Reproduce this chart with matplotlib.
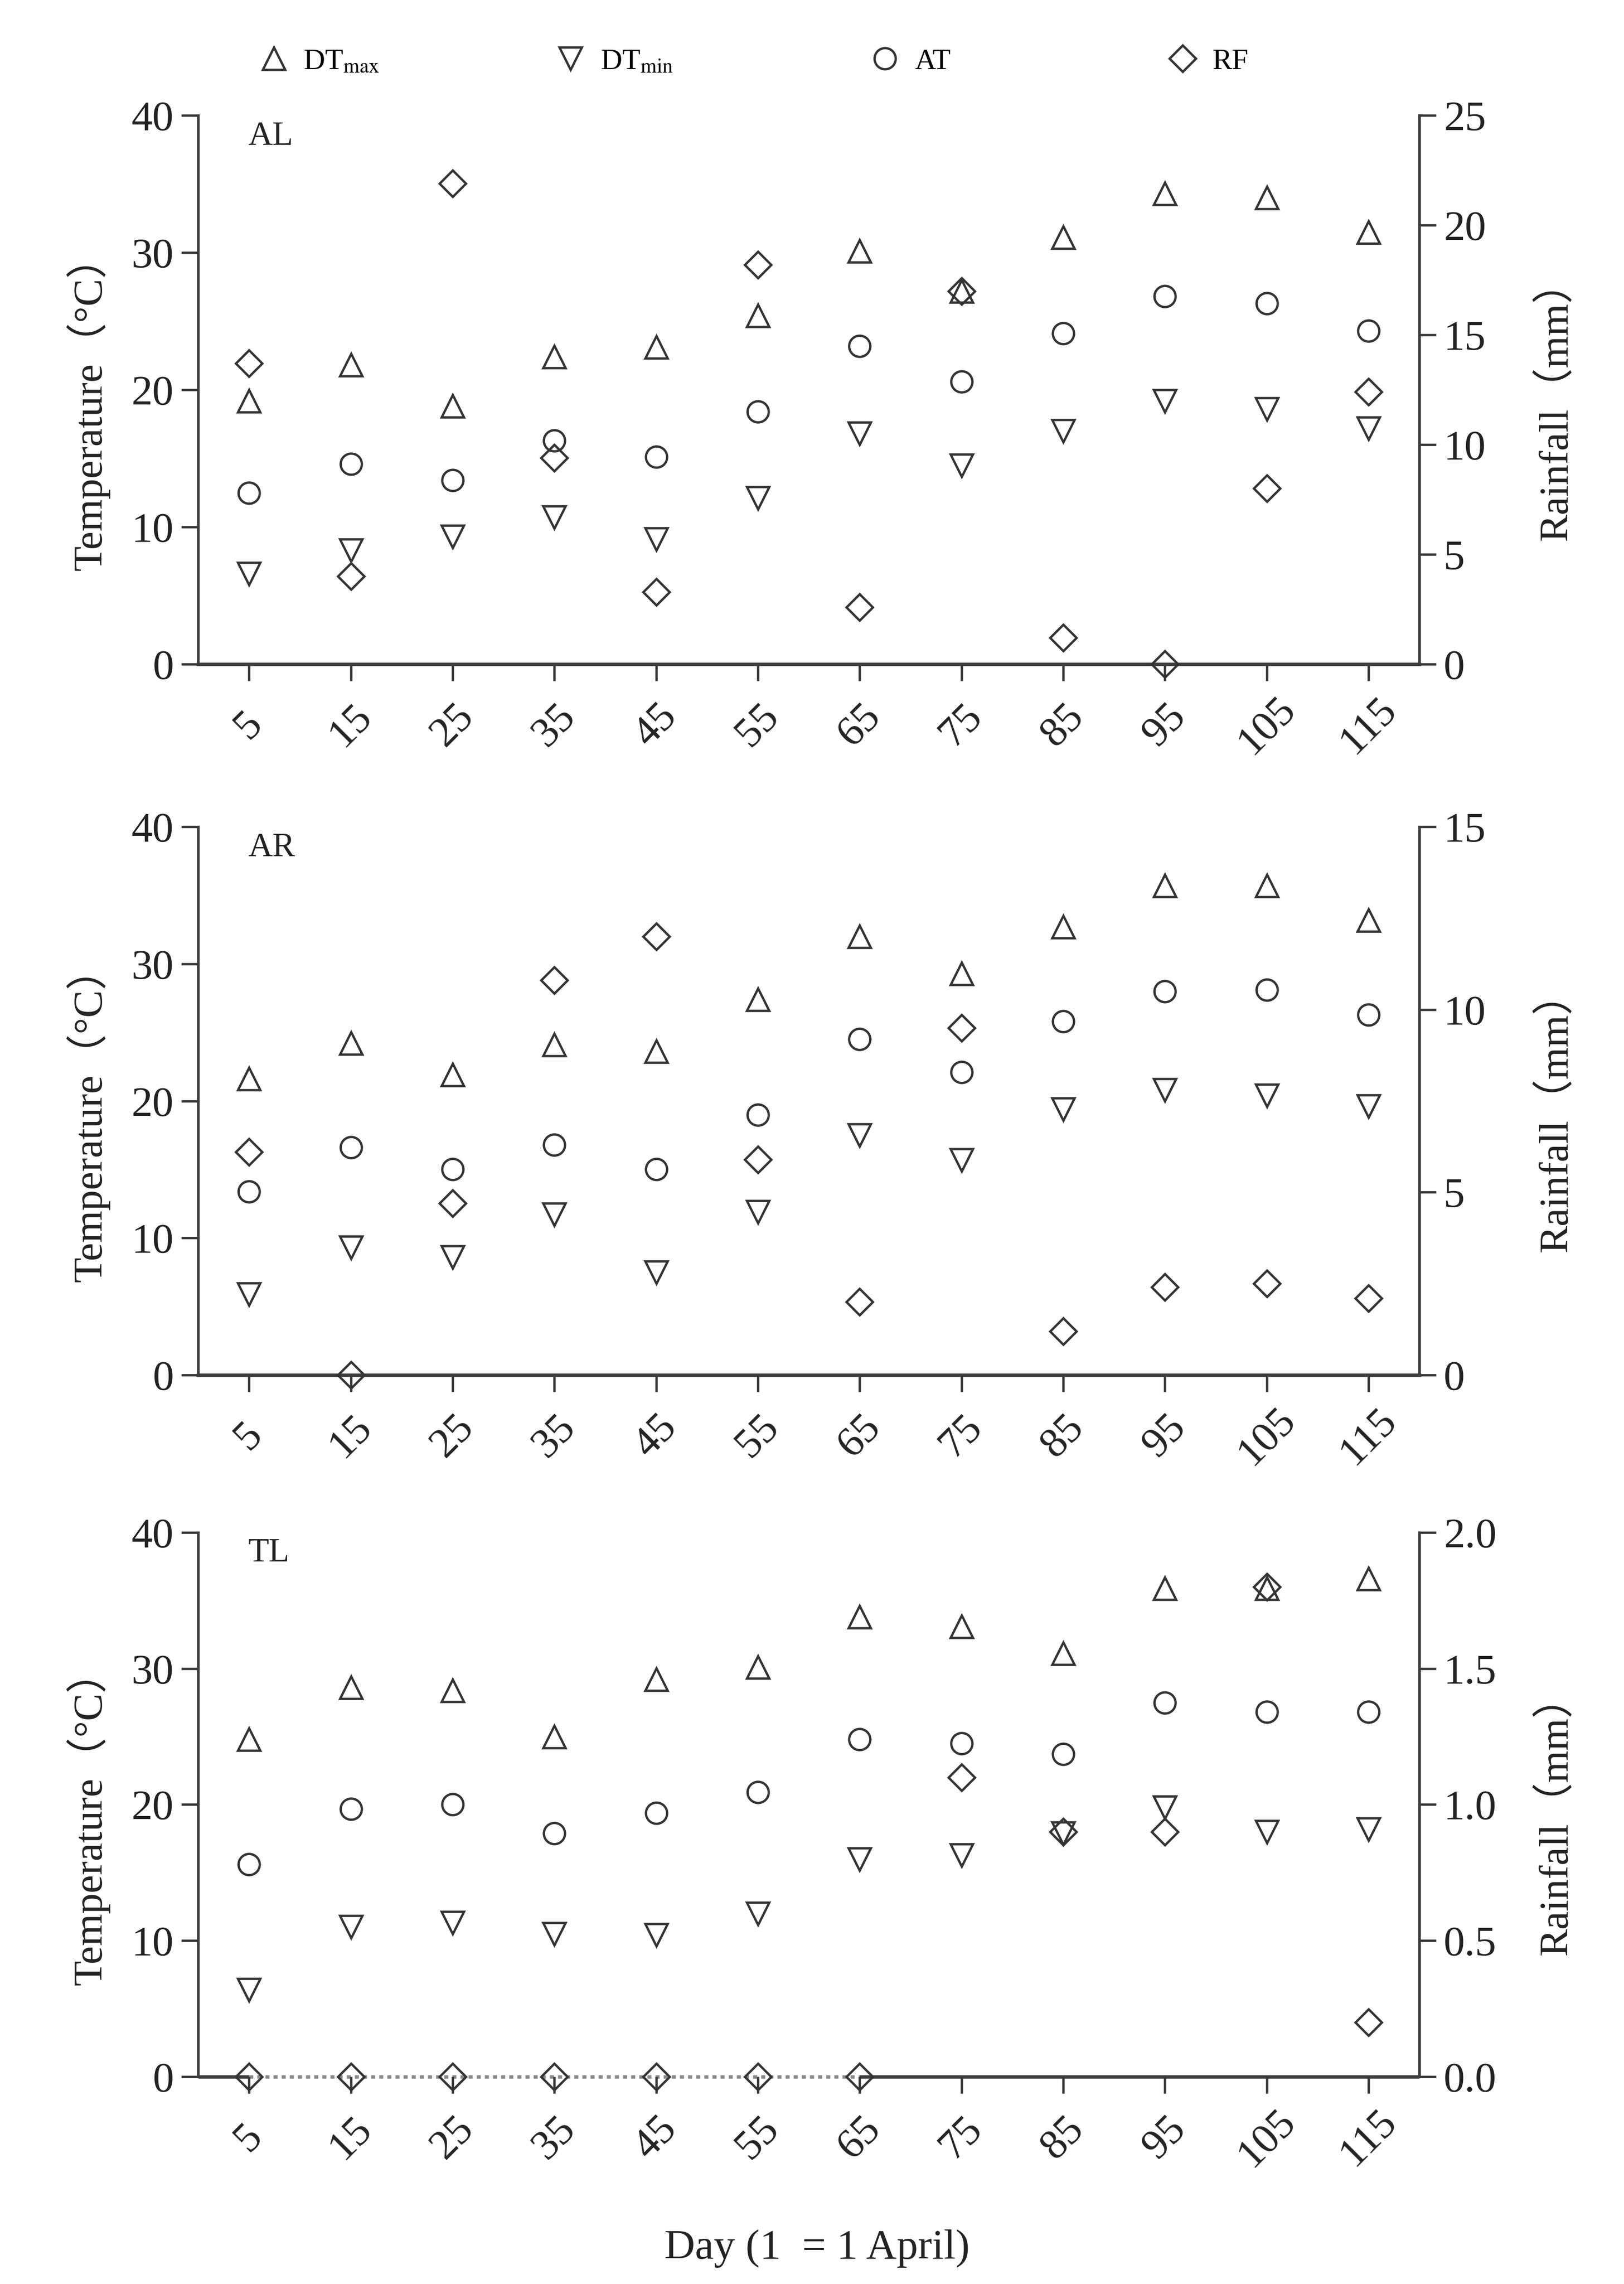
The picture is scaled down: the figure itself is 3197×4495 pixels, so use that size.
import matplotlib
matplotlib.use("Agg")
import matplotlib.pyplot as plt
from matplotlib.lines import Line2D

# Day of observation (1 = 1 April)
days = [5, 15, 25, 35, 45, 55, 65, 75, 85, 95, 105, 115]

# AL
dtmax_al = [19.2, 21.8, 18.8, 22.4, 23.1, 25.4, 30.1, 27.2, 31.1, 34.3, 34.0, 31.5]
dtmin_al = [6.6, 8.3, 9.3, 10.7, 9.1, 12.1, 16.8, 14.5, 17.0, 19.2, 18.6, 17.2]
at_al = [12.5, 14.6, 13.4, 16.3, 15.1, 18.4, 23.2, 20.6, 24.1, 26.8, 26.3, 24.3]
rf_al = [13.7, 4.0, 21.9, 9.4, 3.3, 18.2, 2.6, 17.0, 1.2, 0.0, 8.0, 12.4]

# AR
dtmax_ar = [21.6, 24.2, 21.9, 24.1, 23.6, 27.4, 32.0, 29.3, 32.7, 35.7, 35.7, 33.2]
dtmin_ar = [5.9, 9.3, 8.6, 11.7, 7.5, 11.9, 17.5, 15.7, 19.4, 20.8, 20.4, 19.6]
at_ar = [13.4, 16.6, 15.0, 16.8, 15.0, 19.0, 24.5, 22.1, 25.8, 28.0, 28.1, 26.3]
rf_ar = [6.1, 0.0, 4.7, 10.8, 12.0, 5.9, 2.0, 9.5, 1.2, 2.4, 2.5, 2.1]

# TL
dtmax_tl = [24.8, 28.6, 28.4, 25.0, 29.2, 30.1, 33.8, 33.1, 31.1, 35.9, 35.9, 36.6]
dtmin_tl = [6.4, 11.0, 11.3, 10.5, 10.4, 12.0, 16.0, 16.3, 17.9, 19.8, 18.0, 18.2]
at_tl = [15.6, 19.7, 20.0, 17.9, 19.4, 20.9, 24.8, 24.5, 23.7, 27.5, 26.8, 26.8]
rf_tl = [0.0, 0.0, 0.0, 0.0, 0.0, 0.0, 0.0, 1.1, 0.9, 0.9, 1.8, 0.2]

sites = ["AL", "AR", "TL"]
temp_ticks = [0, 10, 20, 30, 40]
rf_ticks = [[0, 5, 10, 15, 20, 25], [0, 5, 10, 15], [0.0, 0.5, 1.0, 1.5, 2.0]]
rf_fmt = ["{:g}", "{:g}", "{:.1f}"]

panels = [
    (dtmax_al, dtmin_al, at_al, rf_al),
    (dtmax_ar, dtmin_ar, at_ar, rf_ar),
    (dtmax_tl, dtmin_tl, at_tl, rf_tl),
]

plt.rcParams["font.family"] = ["Liberation Serif", "Noto Sans CJK SC"]
plt.rcParams["mathtext.fontset"] = "stix"

ink = "#333333"
spine_col = "#3c3c3c"

fig = plt.figure(figsize=(3197 / 300, 4495 / 300), dpi=300)
boxes = [
    [0.122, 0.7092, 0.752, 0.2403],
    [0.122, 0.3980, 0.752, 0.2400],
    [0.122, 0.0908, 0.752, 0.2382],
]

mk = dict(ls="none", mfc="none", mec=ink, mew=1.1, clip_on=False)

for i, (dtmax, dtmin, at, rf) in enumerate(panels):
    ax = fig.add_axes(boxes[i])
    ax2 = ax.twinx()

    ax.plot(days, dtmax, marker="^", ms=10.5, **mk)
    ax.plot(days, dtmin, marker="v", ms=10.5, **mk)
    ax.plot(days, at, marker="o", ms=10, **mk)
    ax2.plot(days, rf, marker="D", ms=8.8, zorder=5, **mk)

    ax.set_xlim(0, 120)
    ax.set_ylim(0, 40)
    ax2.set_ylim(0, rf_ticks[i][-1])

    ax.set_yticks(temp_ticks)
    ax2.set_yticks(rf_ticks[i])
    ax2.set_yticklabels([rf_fmt[i].format(t) for t in rf_ticks[i]])
    ax.set_xticks(days)
    ax.set_xticklabels([str(d) for d in days], rotation=45, ha="center", va="center")

    for a in (ax, ax2):
        a.tick_params(direction="out", length=8, width=1.1, labelsize=20,
                      colors=ink, labelcolor="#222222")
        a.spines["top"].set_visible(False)
    ax.tick_params(axis="x", pad=21)
    ax.spines["right"].set_visible(False)
    ax2.spines["left"].set_visible(False)
    ax2.spines["bottom"].set_visible(False)
    ax.spines["left"].set_color(spine_col)
    ax.spines["left"].set_linewidth(1.2)
    ax2.spines["right"].set_color(spine_col)
    ax2.spines["right"].set_linewidth(1.2)
    ax.spines["bottom"].set_color(spine_col)
    ax.spines["bottom"].set_linewidth(1.6)

    # zero-rainfall run drawn as a dotted stretch of the x axis
    zero_days = [d for d, r in zip(days, rf) if r == 0]
    if len(zero_days) > 1:
        ax.spines["bottom"].set_visible(False)
        x0, x1 = ax.get_xlim()
        line = dict(lw=1.6, clip_on=False, solid_capstyle="butt", zorder=1)
        ax.plot([x0, zero_days[0]], [0, 0], color=spine_col, **line)
        ax.plot([zero_days[-1], x1], [0, 0], color=spine_col, **line)
        ax.plot([zero_days[0], zero_days[-1]], [0, 0], color="#8a8a8a",
                ls=(0, (1.2, 1.2)), **line)

    ax.set_ylabel("Temperature（°C）", fontsize=19.5, color="#222222")
    ax.yaxis.set_label_coords(-0.072, 0.475)
    ax2.set_ylabel("Rainfall（mm）", fontsize=19.5, color="#222222")
    ax2.yaxis.set_label_coords(1.096, 0.48)

    ax.text(0.041, 0.962, sites[i], transform=ax.transAxes, fontsize=16,
            va="center", ha="left", color="#222222")

fig.text(0.503, 0.0156, "Day (1  = 1 April)", fontsize=20, ha="center",
         va="center", color="#222222")

# legend: four evenly spaced entries across the top
handles = [
    Line2D([], [], marker="^", ms=10.5, ls="none", mfc="none", mec=ink, mew=1.1),
    Line2D([], [], marker="v", ms=10.5, ls="none", mfc="none", mec=ink, mew=1.1),
    Line2D([], [], marker="o", ms=10, ls="none", mfc="none", mec=ink, mew=1.1),
    Line2D([], [], marker="D", ms=8.8, ls="none", mfc="none", mec=ink, mew=1.1),
]
labels = [r"DT$_{\rm max}$", r"DT$_{\rm min}$", "AT", "RF"]
legend_x = [0.1595, 0.3422, 0.5358, 0.7191]
for h, lab, lx in zip(handles, labels, legend_x):
    fig.legend([h], [lab], loc="center left", bbox_to_anchor=(lx, 0.973),
               frameon=False, fontsize=14, handlelength=1.0, handletextpad=0.5,
               borderpad=0, borderaxespad=0)

fig.savefig("out.png", dpi=300, facecolor="white")
